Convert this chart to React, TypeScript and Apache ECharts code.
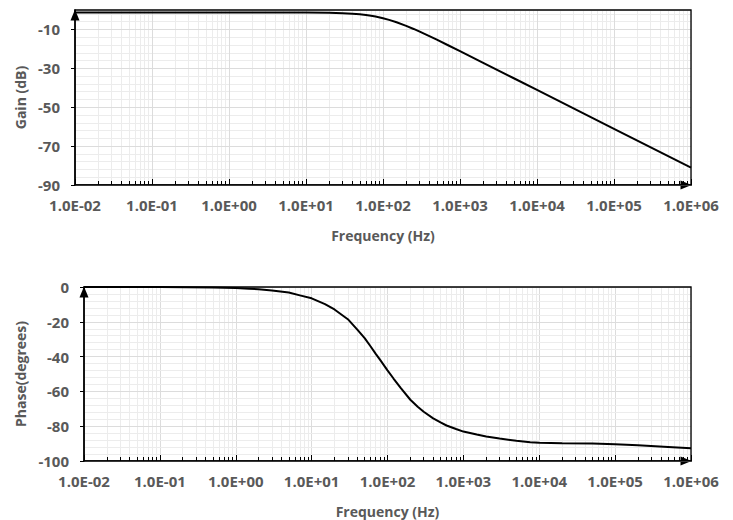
import React, { useEffect, useRef } from "react";
import * as echarts from "echarts";

// ---- data ----
const gainFreq = [0.01, 0.1, 1, 5, 10, 20, 30, 40, 50, 60, 70, 80, 100, 120, 150, 200, 250, 300, 400, 500, 700, 1000, 2000, 5000, 10000, 100000, 1000000];
const gainDb = [-1.3, -1.3, -1.3, -1.31, -1.34, -1.46, -1.66, -1.92, -2.23, -2.59, -2.98, -3.38, -4.22, -5.07, -6.3, -8.15, -9.75, -11.15, -13.45, -15.28, -18.12, -21.17, -27.16, -35.1, -41.1, -61.1, -81.1];

const phaseFreq = [0.01, 0.1, 0.5, 1, 1.5, 2, 3, 5, 7, 10, 15, 20, 30, 40, 50, 60, 70, 80, 100, 120, 150, 200, 250, 300, 400, 500, 600, 800, 1000, 1500, 2000, 3000, 5000, 7600, 10000, 20000, 50000, 100000, 200000, 500000, 1000000];
const phaseDeg = [-0.01, -0.06, -0.3, -0.64, -1.0, -1.3, -2.0, -3.2, -4.8, -6.5, -9.8, -12.9, -18.5, -24.5, -29.4, -34.2, -38.4, -41.9, -47.9, -52.6, -58.1, -64.8, -68.8, -71.7, -75.5, -77.8, -79.6, -81.6, -83.1, -84.8, -85.9, -87.1, -88.4, -89.2, -89.5, -89.8, -90.0, -90.4, -91.0, -91.9, -92.7];

const freqTickExponents = [-2, -1, 0, 1, 2, 3, 4, 5, 6];
const freqTickLabels = ["1.0E-02", "1.0E-01", "1.0E+00", "1.0E+01", "1.0E+02", "1.0E+03", "1.0E+04", "1.0E+05", "1.0E+06"];
const gainTickLabels = [-90, -70, -50, -30, -10];
const phaseTickLabels = [-100, -80, -60, -40, -20, 0];

const FONT = "'Open Sans', 'Noto Sans', sans-serif";
const TEXT = "#595959";

function freqLabel(v: number): string {
  const e = Math.round(Math.log10(v));
  const i = freqTickExponents.indexOf(e);
  return i >= 0 ? freqTickLabels[i] : "";
}

function makeXAxis(gridIndex: number) {
  return {
    gridIndex,
    type: "log",
    logBase: 10,
    min: 0.01,
    max: 1000000,
    splitNumber: 8,
    axisLine: {
      show: true,
      onZero: false,
      lineStyle: { color: "#000", width: 1.5 },
      symbol: ["none", "triangle"],
      symbolSize: [9, 11],
      symbolOffset: [0, -5],
    },
    axisTick: { show: true, inside: true, length: 6, lineStyle: { color: "#000", width: 1 } },
    minorTick: { show: true, splitNumber: 9, length: 4, lineStyle: { color: "#000", width: 1 } },
    splitLine: { show: true, lineStyle: { color: "#dcdcdc", width: 1 } },
    minorSplitLine: { show: true, lineStyle: { color: "#ececec", width: 1 } },
    axisLabel: {
      margin: 12,
      color: TEXT,
      fontFamily: FONT,
      fontWeight: "bold",
      fontSize: 15,
      formatter: (v: number) => freqLabel(v),
    },
    name: "Frequency (Hz)",
    nameLocation: "middle",
    nameGap: 43,
    nameTextStyle: { color: TEXT, fontFamily: FONT, fontWeight: "bold", fontSize: 14 },
  };
}

export default function App() {
  const ref = useRef<HTMLDivElement>(null);

  useEffect(() => {
    document.body.style.margin = "0";
    if (!ref.current) return;
    const chart = echarts.init(ref.current, null, { renderer: "svg" });

    const yAxisLine = {
      show: true,
      onZero: false,
      lineStyle: { color: "#000", width: 1.5 },
      symbol: ["none", "triangle"],
      symbolSize: [9, 11],
      symbolOffset: [0, -5],
    };
    const yLabel = {
      margin: 15,
      color: TEXT,
      fontFamily: FONT,
      fontWeight: "bold",
      fontSize: 15,
    };
    const yName = { color: TEXT, fontFamily: FONT, fontWeight: "bold", fontSize: 14 };

    const option: any = {
      animation: false,
      backgroundColor: "#fff",
      grid: [
        { left: 75, top: 10, width: 616, height: 175, show: true, borderColor: "#000", borderWidth: 1.3, backgroundColor: "transparent", z: 3 },
        { left: 84, top: 287, width: 607, height: 174, show: true, borderColor: "#000", borderWidth: 1.3, backgroundColor: "transparent", z: 3 },
      ],
      xAxis: [makeXAxis(0), makeXAxis(1)],
      yAxis: [
        {
          gridIndex: 0,
          type: "value",
          min: gainTickLabels[0],
          max: 0,
          interval: 20,
          z: 1,
          axisLine: yAxisLine,
          axisTick: { show: true, inside: false, length: 4, lineStyle: { color: "#000" }, customValues: gainTickLabels },
          axisLabel: {
            ...yLabel,
            customValues: gainTickLabels,
            formatter: (v: number) => (gainTickLabels.indexOf(Math.round(v)) >= 0 ? String(Math.round(v)) : ""),
          },
          splitLine: { show: true, lineStyle: { color: "#dcdcdc" } },
          name: "Gain (dB)",
          nameLocation: "middle",
          nameGap: 45,
          nameTextStyle: yName,
        },
        {
          gridIndex: 1,
          type: "value",
          min: phaseTickLabels[0],
          max: phaseTickLabels[phaseTickLabels.length - 1],
          interval: 20,
          z: 1,
          axisLine: yAxisLine,
          axisTick: { show: true, inside: false, length: 4, lineStyle: { color: "#000" } },
          axisLabel: { ...yLabel },
          splitLine: { show: true, lineStyle: { color: "#dcdcdc" } },
          minorTick: { show: false, splitNumber: 5 },
          minorSplitLine: { show: true, lineStyle: { color: "#ececec" } },
          name: "Phase(degrees)",
          nameLocation: "middle",
          nameGap: 54,
          nameTextStyle: yName,
        },
        {
          // helper axis: minor horizontal grid lines of the gain plot
          gridIndex: 0,
          type: "value",
          position: "left",
          min: gainTickLabels[0],
          max: 0,
          interval: 4,
          z: 0,
          axisLine: { show: false },
          axisTick: { show: false },
          axisLabel: { show: false },
          splitLine: { show: true, lineStyle: { color: "#ececec" } },
        },
      ],
      series: [
        {
          type: "line",
          xAxisIndex: 0,
          yAxisIndex: 0,
          data: gainFreq.map((f, i) => [f, gainDb[i]]),
          showSymbol: false,
          smooth: false,
          lineStyle: { color: "#000", width: 2 },
          z: 2,
        },
        {
          type: "line",
          xAxisIndex: 1,
          yAxisIndex: 1,
          data: phaseFreq.map((f, i) => [f, phaseDeg[i]]),
          showSymbol: false,
          smooth: false,
          lineStyle: { color: "#000", width: 2 },
          z: 2,
        },
      ],
    };

    chart.setOption(option);
    return () => chart.dispose();
  }, []);

  return (
    <div
      ref={ref}
      style={{ position: "fixed", left: 0, top: 0, width: 733, height: 520, background: "#fff" }}
    />
  );
}
